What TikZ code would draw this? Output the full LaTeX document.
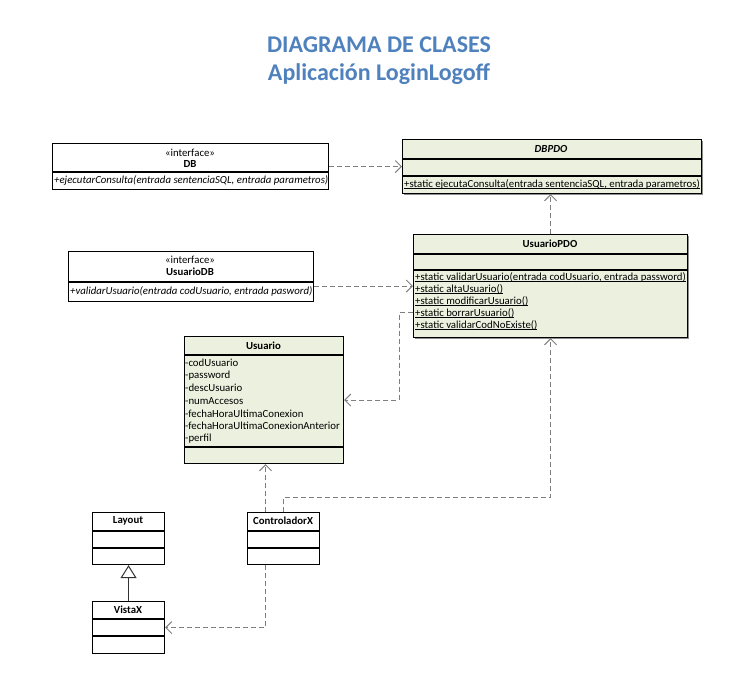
\documentclass[tikz,border=0pt]{standalone}
\usepackage{fontspec}
\setmainfont{Carlito}
\usetikzlibrary{arrows.meta,calc,shadows}

\definecolor{titleblue}{HTML}{4F81BD}
\definecolor{classgreen}{HTML}{EBF1DE}
\definecolor{depgray}{HTML}{7F7F7F}

\newcommand{\classfont}{\fontsize{10.8}{13}\selectfont}
% underline drawn just below the baseline (static members)
\newsavebox{\ulnbox}
\newcommand{\uln}[1]{\sbox{\ulnbox}{#1}\rlap{\rule[-1.7pt]{\wd\ulnbox}{0.55pt}}\usebox{\ulnbox}}

\tikzset{
  classbox/.style={draw=black, line width=1.1pt, fill=white, rectangle,
    anchor=north west, inner sep=0pt},
  greenbox/.style={classbox, fill=classgreen},
  shadowed/.style={drop shadow={shadow xshift=1.2pt, shadow yshift=-1.2pt,
    opacity=0.45, fill=black}},
  divider/.style={draw=black, line width=1.1pt},
  ctext/.style={inner sep=0pt, font=\classfont},
  ltext/.style={ctext, anchor=west},
  btext/.style={ctext, font=\classfont\bfseries},
  dep/.style={draw=depgray, line width=1pt, dash pattern=on 5pt off 3pt,
    -{Straight Barb[length=6pt,width=12pt]}},
  gen/.style={draw=black!80, line width=1pt,
    -{Triangle[open,length=13pt,width=16pt,fill=white]}},
}

\begin{document}
\begin{tikzpicture}[x=1pt,y=-1pt]
\useasboundingbox (0,0) rectangle (731,673);

% title
\node[font=\fontsize{24}{29}\selectfont\bfseries, text=titleblue] (t1) at (379,45) {DIAGRAMA DE CLASES};
\node[font=\fontsize{24}{29}\selectfont\bfseries, text=titleblue] (t2) at (379,74) {Aplicación LoginLogoff};

% interface DB
\node[classbox, minimum width=276pt, minimum height=46pt] (db) at (52,143) {};
\draw[divider] ($(db.north west)+(0,29)$) -- ($(db.north east)+(0,29)$);
\node[ctext] (dbst) at (190,153) {«interface»};
\node[btext] (dbname) at (190,164) {DB};
\node[ltext, font=\classfont\itshape] (dbm) at (54,180) {+ejecutarConsulta(entrada sentenciaSQL, entrada parametros)};

% class DBPDO
\node[greenbox, shadowed, minimum width=299pt, minimum height=54pt] (dbpdo) at (402,139) {};
\draw[divider] ($(dbpdo.north west)+(0,20)$) -- ($(dbpdo.north east)+(0,20)$);
\draw[divider] ($(dbpdo.north west)+(0,37)$) -- ($(dbpdo.north east)+(0,37)$);
\node[ctext, font=\classfont\bfseries\itshape] (dbpdoname) at (551,149) {DBPDO};
\node[ltext] (dbpdom) at (404,184) {\uln{+static ejecutaConsulta(entrada sentenciaSQL, entrada parametros)}};

% interface UsuarioDB
\node[classbox, minimum width=245pt, minimum height=50pt] (udb) at (68,251) {};
\draw[divider] ($(udb.north west)+(0,31)$) -- ($(udb.north east)+(0,31)$);
\node[ctext] (udbst) at (190,260) {«interface»};
\node[btext] (udbname) at (190,272) {UsuarioDB};
\node[ltext, font=\classfont\itshape] (udbm) at (70,291) {+validarUsuario(entrada codUsuario, entrada pasword)};

% class UsuarioPDO
\node[greenbox, shadowed, minimum width=274pt, minimum height=103pt] (upd) at (413,234) {};
\draw[divider] ($(upd.north west)+(0,20)$) -- ($(upd.north east)+(0,20)$);
\draw[divider] ($(upd.north west)+(0,36)$) -- ($(upd.north east)+(0,36)$);
\node[btext] (updname) at (550,244) {UsuarioPDO};
\node[ltext] (updm1) at (415,277) {\uln{+static validarUsuario(entrada codUsuario, entrada password)}};
\node[ltext] (updm2) at (415,289) {\uln{+static altaUsuario()}};
\node[ltext] (updm3) at (415,301) {\uln{+static modificarUsuario()}};
\node[ltext] (updm4) at (415,313) {\uln{+static borrarUsuario()}};
\node[ltext] (updm5) at (415,325) {\uln{+static validarCodNoExiste()}};

% class Usuario
\node[greenbox, minimum width=159pt, minimum height=127pt] (usu) at (184,336) {};
\draw[divider] ($(usu.north west)+(0,19)$) -- ($(usu.north east)+(0,19)$);
\draw[divider] ($(usu.north west)+(0,111)$) -- ($(usu.north east)+(0,111)$);
\node[btext] (usuname) at (263.5,346) {Usuario};
\node[ltext] (usua1) at (185,363) {-codUsuario};
\node[ltext] (usua2) at (185,376) {-password};
\node[ltext] (usua3) at (185,388) {-descUsuario};
\node[ltext] (usua4) at (185,401) {-numAccesos};
\node[ltext] (usua5) at (185,414) {-fechaHoraUltimaConexion};
\node[ltext] (usua6) at (185,426) {-fechaHoraUltimaConexionAnterior};
\node[ltext] (usua7) at (185,439) {-perfil};

% class Layout
\node[classbox, minimum width=72pt, minimum height=52pt] (layout) at (92,512) {};
\draw[divider] ($(layout.north west)+(0,19)$) -- ($(layout.north east)+(0,19)$);
\draw[divider] ($(layout.north west)+(0,36)$) -- ($(layout.north east)+(0,36)$);
\node[btext] (layoutname) at (128,521) {Layout};

% class ControladorX
\node[classbox, minimum width=72pt, minimum height=52pt] (ctrl) at (247,512) {};
\draw[divider] ($(ctrl.north west)+(0,19)$) -- ($(ctrl.north east)+(0,19)$);
\draw[divider] ($(ctrl.north west)+(0,36)$) -- ($(ctrl.north east)+(0,36)$);
\node[btext] (ctrlname) at (283,521) {ControladorX};

% class VistaX
\node[classbox, minimum width=72pt, minimum height=52pt] (vista) at (92,601) {};
\draw[divider] ($(vista.north west)+(0,18)$) -- ($(vista.north east)+(0,18)$);
\draw[divider] ($(vista.north west)+(0,35)$) -- ($(vista.north east)+(0,35)$);
\node[btext] (vistaname) at (128,610) {VistaX};

% dependencies
\draw[dep] (db) -- (dbpdo);
\draw[dep] (upd.north) -- (upd.north |- dbpdo.south);
\draw[dep] (udb.east |- upd.west) -- (upd.west);
\draw[dep] ($(upd.north west)!0.757!(upd.south west)$) -- ++(-14,0) |- (usu.east);
\draw[dep] ($(usu.south |- ctrl.north)+(1.5,0)$) -- ($(usu.south)+(1.5,0)$);
\draw[dep] (ctrl.north) -- ++(0,-15) -| (upd.south);
\draw[dep] ($(usu.south |- ctrl.south)+(1.5,0)$) |- (vista.east);

% generalization
\draw[gen] (vista.north) -- (layout.south);
\end{tikzpicture}
\end{document}
